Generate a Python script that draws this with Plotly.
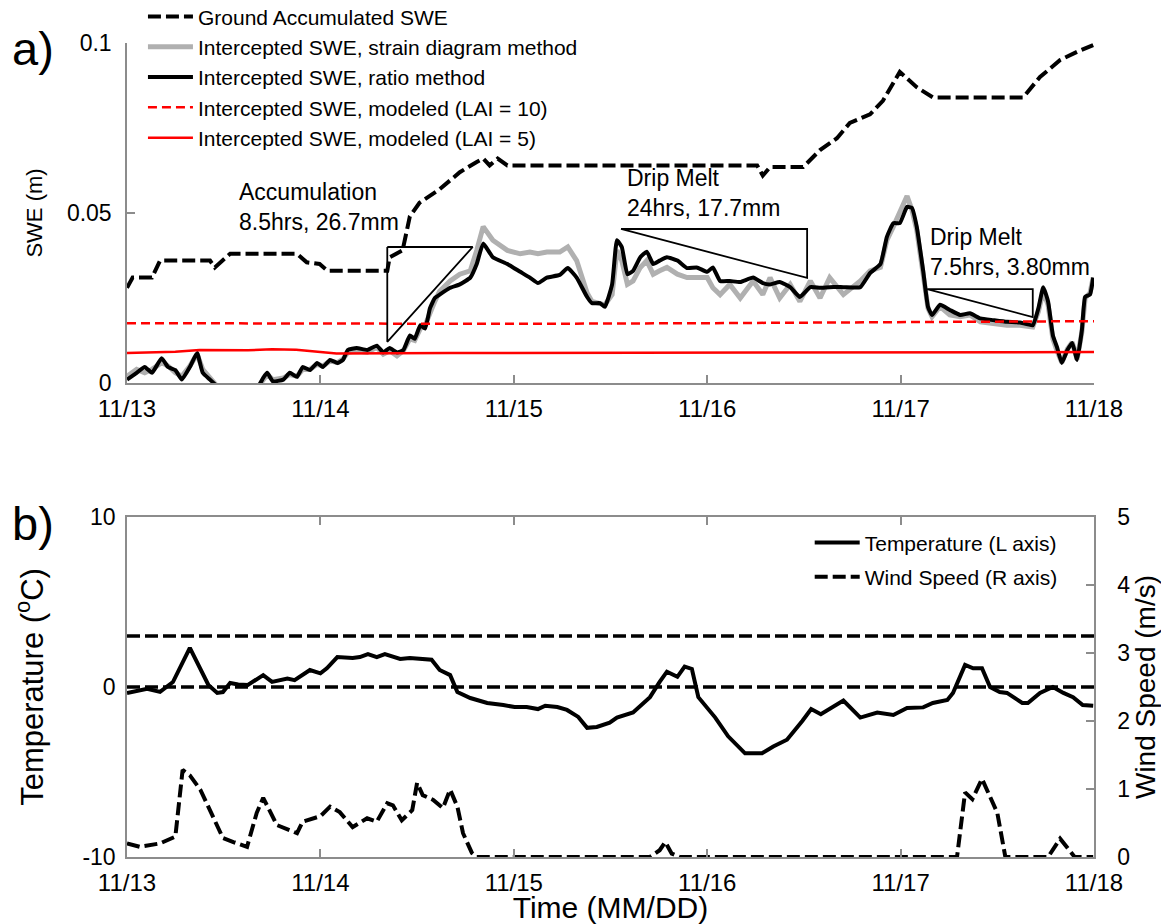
import pandas as pd
import plotly.graph_objects as go

START = pd.Timestamp("2012-11-13")

# ---------------- Panel a data (hours since 11/13 00:00, SWE in m) ----------------
ground_h = [0.0, 0.7, 3.1, 4.1, 10.3, 10.9, 12.8, 21.1, 22.3, 23.9, 24.9, 32.3, 32.6, 34.2,
            35.1, 36.3, 38.8, 41.3, 43.4, 44.2, 45.0, 46.0, 47.2, 78.2, 78.9, 79.8, 83.9,
            86.0, 88.1, 89.7, 92.2, 93.8, 95.9, 98.0, 100.0, 111.2, 113.3, 115.8, 117.9, 119.9]
ground_swe = [0.028, 0.031, 0.031, 0.036, 0.036, 0.034, 0.038, 0.038, 0.0355, 0.035, 0.033,
              0.033, 0.037, 0.039, 0.049, 0.053, 0.057, 0.062, 0.065, 0.066, 0.064, 0.066,
              0.064, 0.064, 0.061, 0.0635, 0.0635, 0.0685, 0.072, 0.0765, 0.079, 0.083,
              0.0915, 0.087, 0.084, 0.084, 0.090, 0.095, 0.0974, 0.0994]

intercept_h = [0.0, 1.2, 2.2, 3.1, 4.3, 5.1, 6.0, 6.8, 7.8, 8.7, 9.4, 10.3, 11.2, 12.8, 14.6,
               16.3, 16.9, 17.4, 18.1, 19.4, 20.2, 21.1, 21.8, 22.7, 23.6, 24.3, 25.2, 26.1,
               26.8, 27.4, 28.5, 29.8, 31.0, 31.8, 32.6, 33.5, 34.3, 35.1, 35.7, 36.4, 37.0,
               37.6, 38.2, 38.8, 40.1, 41.3, 42.6, 43.4, 44.2, 45.4, 47.2, 48.8, 50.0, 51.0,
               52.1, 53.7, 54.7, 55.8, 57.1, 57.7, 58.7, 59.3, 60.2, 60.8, 61.4, 62.1, 62.8,
               63.7, 64.5, 65.3, 66.1, 67.0, 68.3, 69.5, 70.7, 72.0, 72.7, 73.6, 74.8, 76.1,
               77.7, 78.9, 79.8, 81.0, 82.3, 83.5, 84.8, 86.0, 87.2, 88.9, 91.0, 92.2, 93.5,
               94.3, 95.1, 95.9, 96.8, 97.4, 98.0, 98.8, 99.4, 99.9, 100.9, 102.1, 103.4,
               104.6, 105.9, 107.5, 109.2, 110.8, 112.4, 113.1, 113.7, 114.3, 114.9, 115.4,
               116.0, 116.7, 117.3, 117.9, 118.5, 118.9, 119.5, 119.9]
ratio_swe = [0.001, 0.003, 0.0047, 0.003, 0.0073, 0.0047, 0.0038, 0.001, 0.0047, 0.0088, 0.003,
             0.001, -0.001, -0.004, -0.004, -0.001, 0.0015, 0.003, 0.0005, 0.001, 0.003, 0.0018,
             0.0047, 0.0038, 0.0059, 0.0047, 0.0068, 0.0059, 0.0068, 0.0097, 0.0103, 0.0097,
             0.011, 0.009, 0.0103, 0.009, 0.0097, 0.014, 0.013, 0.017, 0.016, 0.022, 0.025,
             0.026, 0.028, 0.029, 0.031, 0.035, 0.041, 0.037, 0.035, 0.0327, 0.031, 0.0294,
             0.031, 0.0318, 0.0338, 0.031, 0.0253, 0.0235, 0.0235, 0.0224, 0.029, 0.042, 0.040,
             0.032, 0.033, 0.037, 0.0386, 0.035, 0.036, 0.037, 0.036, 0.0338, 0.034, 0.0327,
             0.034, 0.030, 0.030, 0.0297, 0.031, 0.0294, 0.029, 0.0297, 0.0282, 0.0253, 0.0282,
             0.028, 0.0282, 0.0282, 0.0282, 0.0323, 0.035, 0.043, 0.047, 0.047, 0.0518, 0.0515,
             0.046, 0.033, 0.0224, 0.020, 0.023, 0.0215, 0.020, 0.0205, 0.019, 0.0185, 0.018,
             0.0178, 0.017, 0.022, 0.0282, 0.024, 0.014, 0.0106, 0.0059, 0.0097, 0.0118, 0.0068,
             0.0156, 0.0253, 0.026, 0.031]
strain_swe = [0.002, 0.004, 0.003, 0.004, 0.006, 0.005, 0.003, 0.002, 0.005, 0.0085, 0.004,
              0.0015, -0.001, -0.004, -0.004, -0.001, 0.001, 0.0025, 0.001, 0.0015, 0.0025, 0.002,
              0.004, 0.004, 0.0055, 0.005, 0.0065, 0.006, 0.007, 0.009, 0.0095, 0.009, 0.0105,
              0.0085, 0.0095, 0.008, 0.0095, 0.013, 0.0125, 0.016, 0.017, 0.021, 0.024, 0.027,
              0.030, 0.032, 0.033, 0.039, 0.046, 0.042, 0.039, 0.038, 0.0385, 0.038, 0.0385,
              0.0385, 0.040, 0.036, 0.0265, 0.024, 0.0235, 0.023, 0.026, 0.039, 0.036, 0.029,
              0.030, 0.034, 0.036, 0.032, 0.033, 0.034, 0.032, 0.031, 0.031, 0.031, 0.028, 0.026,
              0.029, 0.025, 0.030, 0.026, 0.031, 0.025, 0.029, 0.024, 0.030, 0.025, 0.031, 0.026,
              0.030, 0.033, 0.034, 0.042, 0.046, 0.050, 0.055, 0.051, 0.045, 0.032, 0.022, 0.0195,
              0.0225, 0.020, 0.0195, 0.020, 0.018, 0.0175, 0.017, 0.017, 0.0165, 0.021, 0.027,
              0.023, 0.013, 0.0095, 0.006, 0.010, 0.012, 0.007, 0.015, 0.025, 0.0265, 0.031]

lai10_h = [0.0, 24.0, 48.0, 72.0, 96.0, 120.0]
lai10_swe = [0.0176, 0.0175, 0.0174, 0.0176, 0.0179, 0.0182]
lai5_h = [0.0, 6.0, 9.0, 15.0, 18.0, 21.0, 24.0, 26.0, 40.0, 72.0, 96.0, 120.0]
lai5_swe = [0.0088, 0.0092, 0.0097, 0.0096, 0.0099, 0.0098, 0.0091, 0.0087, 0.0088, 0.0089,
            0.0090, 0.0091]

# annotation triangles (hours, SWE)
accum_tri_h = [32.3, 42.9, 32.3, 32.3]
accum_tri_v = [0.040, 0.040, 0.0121, 0.040]
drip1_tri_h = [61.3, 84.4, 84.4, 61.3]
drip1_tri_v = [0.0453, 0.0453, 0.0309, 0.0453]
drip2_tri_h = [99.3, 112.4, 112.4, 99.3]
drip2_tri_v = [0.0276, 0.0276, 0.0194, 0.0276]

notes_text = ["Accumulation<br>8.5hrs, 26.7mm", "Drip Melt<br>24hrs, 17.7mm",
              "Drip Melt<br>7.5hrs, 3.80mm"]
notes_h = [13.7, 61.8, 99.4]
notes_v = [0.0518, 0.0559, 0.0385]

# ---------------- Panel b data ----------------
temp_h = [0.0, 1.6, 2.5, 4.1, 5.7, 7.8, 10.1, 11.2, 11.9, 12.8, 13.8, 15.0, 16.9, 18.0, 19.9,
          20.8, 22.7, 24.0, 24.8, 26.1, 28.0, 28.9, 29.9, 31.0, 32.0, 33.9, 35.1, 37.8, 38.8,
          40.1, 41.0, 42.6, 44.7, 46.7, 48.1, 49.6, 51.0, 51.9, 53.4, 54.6, 56.0, 57.1, 58.3,
          59.9, 60.8, 62.8, 64.9, 66.1, 67.0, 68.3, 69.2, 70.1, 70.9, 73.0, 74.6, 76.7, 78.8,
          80.2, 81.9, 83.8, 84.9, 86.1, 88.9, 91.0, 93.1, 95.1, 96.8, 98.8, 100.0, 101.8,
          102.5, 104.0, 105.0, 106.1, 107.1, 108.3, 109.2, 111.1, 111.8, 113.3, 114.9, 116.2,
          117.4, 118.6, 119.9]
temp_c = [-0.35, -0.18, -0.1, -0.29, 0.29, 2.3, 0.12, -0.35, -0.3, 0.24, 0.15, 0.12, 0.7, 0.3,
          0.5, 0.4, 1.0, 0.8, 1.1, 1.76, 1.7, 1.76, 1.94, 1.76, 1.94, 1.65, 1.7, 1.6, 1.0, 0.7,
          -0.3, -0.65, -0.94, -1.06, -1.18, -1.18, -1.3, -1.1, -1.18, -1.35, -1.76, -2.4, -2.35,
          -2.1, -1.8, -1.5, -0.6, 0.3, 0.9, 0.6, 1.2, 1.06, -0.6, -1.8, -2.9, -3.9, -3.9, -3.5,
          -3.1, -2.0, -1.3, -1.6, -0.8, -1.8, -1.5, -1.65, -1.24, -1.2, -0.94, -0.76, -0.35,
          1.3, 1.1, 1.1, 0.0, -0.3, -0.35, -0.94, -0.94, -0.35, 0.0, -0.35, -0.6, -1.06, -1.1]

wind_h = [0.0, 1.6, 4.1, 6.0, 6.9, 7.8, 9.1, 10.7, 11.9, 13.2, 14.9, 16.1, 16.9, 18.6, 21.1,
          21.8, 24.0, 25.2, 26.4, 28.0, 29.8, 31.0, 32.3, 33.0, 34.1, 35.4, 36.0, 36.7, 38.0,
          39.2, 40.1, 41.0, 41.7, 42.8, 43.4, 64.9, 66.1, 66.8, 67.6, 68.6, 103.0, 104.0,
          104.9, 106.1, 107.1, 108.0, 109.0, 114.3, 115.8, 117.6, 119.9]
wind_ms = [0.2, 0.15, 0.2, 0.3, 1.28, 1.2, 0.99, 0.6, 0.28, 0.22, 0.15, 0.65, 0.87, 0.47, 0.35,
           0.52, 0.6, 0.74, 0.66, 0.44, 0.57, 0.52, 0.79, 0.76, 0.54, 0.69, 1.09, 0.91, 0.84,
           0.72, 0.99, 0.74, 0.35, 0.06, 0.0, 0.0, 0.1, 0.22, 0.05, 0.0, 0.0, 0.95, 0.85, 1.15,
           0.9, 0.65, 0.0, 0.0, 0.27, 0.0, 0.0]

temp_ref_lines = [0, 3]

day_ticks = [0, 24, 48, 72, 96, 120]


def to_time(hours):
    return [START + pd.Timedelta(hours=h) for h in hours]


FONT = "Liberation Sans, Arial, sans-serif"
AXC = "#8c8c8c"
DASH = "13px,5px"

fig = go.Figure()

# panel a traces
fig.add_trace(go.Scatter(x=to_time(ground_h), y=ground_swe, mode="lines",
                         name="Ground Accumulated SWE",
                         line=dict(color="black", width=4, dash=DASH),
                         xaxis="x", yaxis="y", legend="legend"))
fig.add_trace(go.Scatter(x=to_time(intercept_h), y=strain_swe, mode="lines",
                         name="Intercepted SWE, strain diagram method",
                         line=dict(color="#b0b0b0", width=5),
                         xaxis="x", yaxis="y", legend="legend"))
fig.add_trace(go.Scatter(x=to_time(intercept_h), y=ratio_swe, mode="lines",
                         name="Intercepted SWE, ratio method",
                         line=dict(color="black", width=4, shape="spline", smoothing=0.4),
                         xaxis="x", yaxis="y", legend="legend"))
fig.add_trace(go.Scatter(x=to_time(lai10_h), y=lai10_swe, mode="lines",
                         name="Intercepted SWE, modeled (LAI = 10)",
                         line=dict(color="#ff0000", width=2.5, dash="9px,5px"),
                         xaxis="x", yaxis="y", legend="legend"))
fig.add_trace(go.Scatter(x=to_time(lai5_h), y=lai5_swe, mode="lines",
                         name="Intercepted SWE, modeled (LAI = 5)",
                         line=dict(color="#ff0000", width=2.5),
                         xaxis="x", yaxis="y", legend="legend"))

for th, tv in [(accum_tri_h, accum_tri_v), (drip1_tri_h, drip1_tri_v), (drip2_tri_h, drip2_tri_v)]:
    fig.add_trace(go.Scatter(x=to_time(th), y=tv, mode="lines", showlegend=False,
                             line=dict(color="black", width=1.8), hoverinfo="skip",
                             xaxis="x", yaxis="y"))

# panel b traces
fig.add_trace(go.Scatter(x=to_time(temp_h), y=temp_c, mode="lines",
                         name="Temperature (L axis)", legendgroup="t",
                         line=dict(color="black", width=4),
                         xaxis="x2", yaxis="y2", legend="legend2"))
fig.add_trace(go.Scatter(x=to_time(wind_h), y=wind_ms, mode="lines",
                         name="Wind Speed (R axis)", legendgroup="w",
                         line=dict(color="black", width=4, dash=DASH),
                         xaxis="x2", yaxis="y3", legend="legend2"))

for v in temp_ref_lines:
    fig.add_shape(type="line", xref="x2 domain", x0=0, x1=1, yref="y2", y0=v, y1=v,
                  line=dict(color="black", width=3.5, dash=DASH), layer="below")

ann = []
for txt, h, v in zip(notes_text, notes_h, notes_v):
    ann.append(dict(x=START + pd.Timedelta(hours=h), y=v, xref="x", yref="y", text=txt,
                    showarrow=False, xanchor="left", yanchor="middle", align="left",
                    font=dict(size=23, color="black", family=FONT)))
ann.append(dict(x=-0.121, y=0.993, xref="paper", yref="paper", text="a)", showarrow=False,
                xanchor="left", yanchor="middle", font=dict(size=47, color="black", family=FONT)))
ann.append(dict(x=-0.121, y=0.410, xref="paper", yref="paper", text="b)", showarrow=False,
                xanchor="left", yanchor="middle", font=dict(size=47, color="black", family=FONT)))

tickvals = to_time(day_ticks)
xrange = [START, START + pd.Timedelta(hours=120)]

common_x = dict(range=xrange, tickvals=tickvals, tickformat="%m/%d", showgrid=False,
                zeroline=False, showline=True, linecolor=AXC, linewidth=1.5,
                ticks="inside", ticklen=8, tickcolor=AXC, tickwidth=1.5,
                tickfont=dict(size=24, color="black", family=FONT), ticklabelstandoff=3,
                automargin=False)

fig.update_layout(
    width=1161, height=924,
    margin=dict(l=127, r=67, t=43, b=67, autoexpand=False),
    paper_bgcolor="white", plot_bgcolor="white",
    font=dict(family=FONT, color="black"),
    showlegend=True,
    xaxis=dict(common_x, anchor="y", domain=[0, 1]),
    yaxis=dict(domain=[0.5823, 1], range=[0, 0.1], tickvals=[0, 0.05, 0.1],
               ticktext=["0", "0.05", "0.1"], showgrid=False, zeroline=False,
               showline=True, linecolor=AXC, linewidth=1.5, ticks="inside", ticklen=8,
               tickcolor=AXC, tickwidth=1.5, tickfont=dict(size=23, color="black", family=FONT),
               ticklabelstandoff=9, automargin=False,
               title=dict(text="SWE (m)", font=dict(size=22, color="black", family=FONT),
                          standoff=18)),
    xaxis2=dict(common_x, anchor="y2", domain=[0, 1], mirror="ticks",
                title=dict(text="Time (MM/DD)", font=dict(size=30, color="black", family=FONT),
                           standoff=0)),
    yaxis2=dict(domain=[0, 0.4177], range=[-10, 10], tickvals=[-10, 0, 10],
                ticktext=["-10", "0", "10"], showgrid=False, zeroline=False, showline=True,
                linecolor=AXC, linewidth=1.5, ticks="", tickfont=dict(size=23, color="black", family=FONT),
                ticklabelstandoff=5, automargin=False,
                title=dict(text="Temperature (<sup>o</sup>C)",
                           font=dict(size=31, color="black", family=FONT), standoff=30)),
    yaxis3=dict(overlaying="y2", side="right", anchor="x2", range=[0, 5], tickvals=[0, 1, 2, 3, 4, 5],
                showgrid=False, zeroline=False, showline=True, linecolor=AXC, linewidth=1.5,
                ticks="inside", ticklen=8, tickcolor=AXC, tickwidth=1.5,
                tickfont=dict(size=23, color="black", family=FONT), ticklabelstandoff=17,
                automargin=False,
                title=dict(text="Wind Speed (m/s)", font=dict(size=28, color="black", family=FONT),
                           standoff=16)),
    legend=dict(x=0.0165, y=1.0574, xanchor="left", yanchor="top", bgcolor="rgba(0,0,0,0)",
                font=dict(size=21, color="black", family=FONT), itemwidth=45,
                tracegroupgap=0),
    legend2=dict(x=0.706, y=0.4112, xanchor="left", yanchor="top", bgcolor="rgba(0,0,0,0)",
                 font=dict(size=21, color="black", family=FONT), itemwidth=45,
                 tracegroupgap=4, traceorder="grouped"),
    annotations=ann,
)

fig.write_html("out.html")
